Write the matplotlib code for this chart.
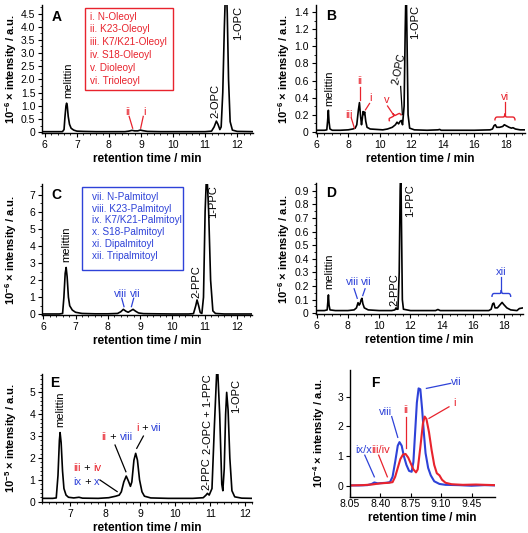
import numpy as np
import matplotlib
matplotlib.use("Agg")
import matplotlib.pyplot as plt
from matplotlib.ticker import AutoMinorLocator, FuncFormatter, MultipleLocator
from matplotlib.path import Path
from matplotlib.patches import PathPatch, Rectangle

plt.rcParams['font.family'] = ['Liberation Sans', 'DejaVu Sans']
plt.rcParams['mathtext.fontset'] = 'custom'
plt.rcParams['mathtext.rm'] = 'Liberation Sans'
plt.rcParams['mathtext.bf'] = 'Liberation Sans:bold'

RED = '#e8232d'
BLUE = '#2e42d8'

# --- chromatogram traces (retention time / min, intensity) ---
a_time = [5.95, 6.3, 6.55, 6.6, 6.63, 6.66, 6.68, 6.7, 6.73, 6.77, 6.82, 6.9, 7.0, 7.2, 7.6, 8.0,
          8.5, 8.62, 8.72, 8.8, 8.9, 8.98, 9.05, 9.2, 9.6, 10.0, 10.6, 11.0, 11.2, 11.28, 11.35,
          11.4, 11.46, 11.5, 11.55, 11.6, 11.65, 11.69, 11.73, 11.78, 11.85, 12.0, 12.5]
a_signal = [0.02, 0.02, 0.02, 0.1, 0.6, 1.0, 1.1, 1.0, 0.6, 0.3, 0.15, 0.08, 0.04, 0.03, 0.02, 0.02,
            0.02, 0.04, 0.07, 0.05, 0.05, 0.08, 0.06, 0.03, 0.02, 0.02, 0.02, 0.02, 0.04, 0.2, 0.42,
            0.3, 0.1, 0.2, 1.5, 4.0, 6.0, 4.5, 2.0, 0.4, 0.08, 0.03, 0.02]

b_time = [5.95, 6.5, 6.65, 6.7, 6.75, 6.79, 6.85, 7.0, 7.5, 8.0, 8.3, 8.45, 8.55, 8.65, 8.72, 8.78,
          8.85, 8.9, 8.95, 9.0, 9.05, 9.12, 9.2, 9.4, 9.8, 10.2, 10.5, 10.8, 11.0, 11.1, 11.2, 11.3,
          11.38, 11.45, 11.55, 11.62, 11.68, 11.74, 11.8, 11.9, 12.2, 13.0, 13.7, 13.8, 13.9, 15.0,
          16.0, 17.0, 17.15, 17.25, 17.33, 17.42, 17.6, 17.8, 17.9, 18.0, 18.2, 18.35, 18.45, 18.6,
          18.9, 19.2]
b_signal = [0.015, 0.015, 0.02, 0.12, 0.25, 0.12, 0.03, 0.015, 0.015, 0.02, 0.03, 0.04, 0.08, 0.25,
            0.34, 0.2, 0.08, 0.15, 0.235, 0.2, 0.23, 0.12, 0.05, 0.03, 0.025, 0.02, 0.03, 0.05, 0.08,
            0.11, 0.09, 0.12, 0.13, 0.08, 0.3, 1.2, 1.8, 1.0, 0.2, 0.04, 0.02, 0.015, 0.02, 0.025,
            0.015, 0.015, 0.015, 0.02, 0.03, 0.07, 0.08, 0.05, 0.05, 0.06, 0.08, 0.07, 0.05, 0.04,
            0.045, 0.03, 0.02, 0.02]

c_time = [5.95, 6.5, 6.6, 6.64, 6.68, 6.71, 6.74, 6.78, 6.82, 6.9, 7.0, 7.2, 7.6, 8.0, 8.3, 8.4,
          8.48, 8.56, 8.63, 8.7, 8.78, 8.86, 8.95, 9.1, 9.5, 10.0, 10.5, 10.65, 10.72, 10.76, 10.81,
          10.86, 10.91, 10.96, 11.01, 11.06, 11.12, 11.18, 11.25, 11.33, 11.6, 12.8]
c_signal = [0.02, 0.02, 0.05, 1.0, 2.4, 2.74, 2.2, 1.0, 0.5, 0.25, 0.12, 0.05, 0.03, 0.03, 0.05, 0.15,
            0.29, 0.18, 0.12, 0.2, 0.29, 0.18, 0.08, 0.04, 0.03, 0.02, 0.02, 0.04, 0.5, 0.84, 0.5,
            0.1, 0.05, 1.0, 6.0, 8.5, 6.0, 2.0, 0.2, 0.05, 0.02, 0.02]

d_time = [5.95, 6.5, 6.68, 6.72, 6.76, 6.8, 6.86, 7.2, 8.0, 8.4, 8.55, 8.65, 8.72, 8.78, 8.85, 8.9,
          8.96, 9.05, 9.3, 10.0, 10.8, 11.0, 11.08, 11.13, 11.2, 11.28, 11.34, 11.38, 11.43, 11.48,
          11.55, 12.0, 13.6, 13.75, 13.9, 17.0, 17.15, 17.25, 17.32, 17.4, 17.55, 17.7, 17.85,
          17.95, 18.15, 18.4, 18.8, 18.95, 19.2]
d_signal = [0.02, 0.02, 0.025, 0.08, 0.135, 0.06, 0.025, 0.02, 0.02, 0.025, 0.04, 0.078, 0.06, 0.07,
            0.1, 0.11, 0.07, 0.04, 0.025, 0.02, 0.02, 0.025, 0.04, 0.03, 0.03, 0.3, 0.9, 1.1, 0.6,
            0.1, 0.03, 0.02, 0.02, 0.028, 0.02, 0.02, 0.03, 0.07, 0.075, 0.04, 0.04, 0.06, 0.08,
            0.065, 0.04, 0.025, 0.02, 0.035, 0.04]

e_time = [6.2, 6.5, 6.6, 6.65, 6.69, 6.71, 6.74, 6.78, 6.82, 6.88, 6.95, 7.1, 7.25, 7.35, 7.8, 8.1,
          8.3, 8.4, 8.46, 8.53, 8.6, 8.66, 8.72, 8.76, 8.82, 8.87, 8.92, 8.98, 9.05, 9.12, 9.3, 9.8,
          10.5, 10.8, 10.88, 10.92, 10.97, 11.05, 11.12, 11.2, 11.27, 11.33, 11.36, 11.4, 11.44,
          11.47, 11.51, 11.56, 11.62, 11.7, 11.9, 12.2]
e_signal = [0.15, 0.15, 0.17, 1.2, 2.8, 3.16, 2.7, 1.4, 0.6, 0.3, 0.2, 0.17, 0.2, 0.16, 0.15, 0.18,
            0.25, 0.3, 0.45, 0.9, 1.17, 0.95, 0.7, 0.9, 1.9, 2.21, 1.9, 1.0, 0.45, 0.25, 0.17, 0.15,
            0.15, 0.18, 0.3, 0.38, 0.3, 0.6, 3.5, 6.5, 4.0, 0.8, 0.5, 1.5, 4.0, 5.0, 4.2, 2.0, 0.5,
            0.22, 0.16, 0.15]

f_blue_time = [8.05, 8.15, 8.25, 8.3, 8.33, 8.37, 8.42, 8.47, 8.51, 8.54, 8.57, 8.6, 8.62, 8.645,
               8.67, 8.7, 8.73, 8.76, 8.78, 8.8, 8.82, 8.84, 8.86, 8.88, 8.9, 8.92, 8.95, 8.98, 9.02,
               9.08, 9.15, 9.3, 9.45, 9.6, 9.72]
f_blue_signal = [0.01, 0.01, 0.02, 0.06, 0.11, 0.08, 0.09, 0.1, 0.12, 0.3, 0.8, 1.35, 1.47, 1.35,
                 1.0, 0.7, 0.5, 0.47, 0.8, 1.8, 2.8, 3.28, 3.25, 2.6, 1.8, 1.1, 0.6, 0.35, 0.15,
                 0.06, 0.03, 0.02, 0.0, 0.02, 0.01]
f_red_time = [8.05, 8.2, 8.3, 8.4, 8.5, 8.54, 8.57, 8.6, 8.63, 8.66, 8.69, 8.72, 8.75, 8.78, 8.81,
              8.83, 8.86, 8.89, 8.91, 8.93, 8.96, 8.99, 9.02, 9.05, 9.08, 9.11, 9.15, 9.22, 9.35,
              9.5, 9.6, 9.72]
f_red_signal = [0.01, 0.02, 0.04, 0.08, 0.1, 0.12, 0.3, 0.6, 0.9, 1.05, 1.07, 0.95, 0.75, 0.55,
                0.45, 0.55, 1.3, 2.1, 2.33, 2.25, 1.8, 1.2, 0.7, 0.42, 0.35, 0.2, 0.1, 0.05, 0.03,
                0.04, 0.03, 0.02]

oleoyl_names = ['i. N-Oleoyl', 'ii. K23-Oleoyl', 'iii. K7/K21-Oleoyl', 'iv. S18-Oleoyl',
                'v. Dioleoyl', 'vi. Trioleoyl']
palmitoyl_names = ['vii. N-Palmitoyl', 'viii. K23-Palmitoyl', 'ix. K7/K21-Palmitoyl',
                   'x. S18-Palmitoyl', 'xi. Dipalmitoyl', 'xii. Tripalmitoyl']

FIG_W = 528
fig = plt.figure(figsize=(5.28, 5.33), dpi=100)


def setup(ax, xlim, ylim, xmaj, ymaj, xmin_n, ymin_n, yint, exp):
    ax.set_xlim(*xlim)
    ax.set_ylim(*ylim)
    for s in ('top', 'right'):
        ax.spines[s].set_visible(False)
    for s in ('left', 'bottom'):
        ax.spines[s].set_linewidth(1.0)
    ax.xaxis.set_major_locator(MultipleLocator(xmaj))
    ax.yaxis.set_major_locator(MultipleLocator(ymaj))
    ax.xaxis.set_minor_locator(AutoMinorLocator(xmin_n))
    ax.yaxis.set_minor_locator(AutoMinorLocator(ymin_n))
    if yint:
        ax.yaxis.set_major_formatter(FuncFormatter(lambda v, _: '%d' % round(v)))
    else:
        ax.yaxis.set_major_formatter(FuncFormatter(lambda v, _: '0' if abs(v) < 1e-9 else '%.1f' % v))
    ax.tick_params(which='major', direction='out', length=3, width=0.8, labelsize=7.5, pad=2)
    ax.tick_params(which='minor', direction='out', length=1.6, width=0.6)
    ax.set_xlabel('retention time / min', fontsize=8.5, fontweight='bold', labelpad=2)
    ax.set_ylabel('10$^{\\mathbf{%d}}$ × intensity / a.u.' % exp, fontsize=8.0,
                  fontweight='bold')
    # label sits in the same place left of the spine in every panel
    w_px = ax.get_position().width * FIG_W
    ax.yaxis.set_label_coords(-23.5 / w_px, 0.5)


def brace(ax, p0, p1, height, color):
    # curly bracket between two data points, tip pointing to the left-hand normal side
    a = np.array(ax.transData.transform(p0))
    b = np.array(ax.transData.transform(p1))
    d = b - a
    n = np.array([-d[1], d[0]]) / np.hypot(*d)
    h = height * fig.dpi / 72.0
    ctrl = [(0, 0), (0, 0.5), (0.12, 0.5), (0.42, 0.5), (0.5, 0.5), (0.5, 1.0),
            (0.5, 0.5), (0.58, 0.5), (0.88, 0.5), (1.0, 0.5), (1.0, 0)]
    codes = [Path.MOVETO, Path.CURVE3, Path.CURVE3, Path.LINETO, Path.CURVE3, Path.CURVE3,
             Path.CURVE3, Path.CURVE3, Path.LINETO, Path.CURVE3, Path.CURVE3]
    pts = [a + s * d + o * h * n for s, o in ctrl]
    pts = ax.transAxes.inverted().transform(pts)
    ax.add_patch(PathPatch(Path(pts, codes), fill=False, edgecolor=color, lw=1.0,
                           transform=ax.transAxes, clip_on=False))


def label_line(ax, text, txy, lxy0, lxy1, color, size=8, rot=0):
    ax.text(*txy, text, color=color, fontsize=size, ha='center', va='center', rotation=rot)
    ax.plot([lxy0[0], lxy1[0]], [lxy0[1], lxy1[1]], color=color, lw=0.9)


def vlabel(ax, x, y, text, va='bottom', size=8):
    ax.text(x, y, text, rotation=90, ha='center', va=va, fontsize=size)


def multicolor(ax, x, y, pieces, size=8):
    t = ax.text(x, y, pieces[0][0], color=pieces[0][1], fontsize=size, ha='left', va='center')
    for s, c in pieces[1:]:
        t = ax.annotate(s, xy=(1, 0.5), xycoords=t, color=c, fontsize=size, ha='left', va='center')


def panel_letter(ax, x, y, letter):
    ax.text(x, y, letter, transform=ax.transAxes, fontsize=10, fontweight='bold',
            ha='center', va='center')


# ---------------- A ----------------
axA = fig.add_axes([0.080, 0.7505, 0.3996, 0.240])
axA.plot(a_time, a_signal, color='black', lw=1.2)
setup(axA, (5.92, 12.5), (-0.03, 4.82), 1, 0.5, 5, 2, False, -6)
panel_letter(axA, 0.068, 0.909, 'A')
vlabel(axA, 6.72, 1.3, 'melittin')
vlabel(axA, 11.33, 0.53, '2-OPC')
vlabel(axA, 12.03, 4.8, '1-OPC', va='top')
label_line(axA, 'ii', (8.6, 0.76), (8.63, 0.6), (8.74, 0.15), RED)
label_line(axA, 'i', (9.1, 0.76), (9.07, 0.6), (8.99, 0.15), RED)
axA.add_patch(Rectangle((0.202, 0.336), 0.418, 0.641, transform=axA.transAxes, fill=False,
                        edgecolor=RED, lw=1.0))
for k, name in enumerate(oleoyl_names):
    axA.text(0.226, 0.91 - k * 0.1, name, transform=axA.transAxes, color=RED, fontsize=7.2,
             ha='left', va='center')

# ---------------- B ----------------
axB = fig.add_axes([0.598, 0.750, 0.396, 0.241])
axB.plot(b_time, b_signal, color='black', lw=1.2)
setup(axB, (5.95, 19.2), (-0.02, 1.49), 2, 0.2, 4, 2, False, -6)
panel_letter(axB, 0.072, 0.909, 'B')
vlabel(axB, 6.8, 0.3, 'melittin')
label_line(axB, 'iii', (8.04, 0.2), (8.2, 0.16), (8.4, 0.04), RED)
label_line(axB, 'ii', (8.76, 0.59), (8.76, 0.52), (8.76, 0.37), RED)
label_line(axB, 'i', (9.42, 0.40), (9.36, 0.33), (9.1, 0.255), RED)
label_line(axB, 'v', (10.46, 0.37), (10.5, 0.3), (10.9, 0.19), RED)
brace(axB, (10.63, 0.12), (11.38, 0.19), 4, RED)
axB.text(11.24, 0.74, '2-OPC', rotation=78, ha='center', va='center', fontsize=7.5)
axB.plot([11.33, 11.44], [0.53, 0.2], color='black', lw=0.9)
vlabel(axB, 12.22, 1.49, '1-OPC', va='top')
label_line(axB, 'vi', (17.96, 0.41), (17.96, 0.35), (17.96, 0.2), RED)
brace(axB, (17.3, 0.13), (18.58, 0.13), 5, RED)

# ---------------- C ----------------
axC = fig.add_axes([0.080, 0.409, 0.3966, 0.245])
axC.plot(c_time, c_signal, color='black', lw=1.2)
setup(axC, (5.97, 12.45), (-0.04, 7.6), 1, 1, 5, 2, True, -6)
panel_letter(axC, 0.069, 0.918, 'C')
vlabel(axC, 6.72, 3.05, 'melittin')
label_line(axC, 'viii', (8.4, 1.17), (8.43, 0.94), (8.5, 0.45), BLUE)
label_line(axC, 'vii', (8.84, 1.17), (8.8, 0.94), (8.73, 0.45), BLUE)
vlabel(axC, 10.75, 0.97, '2-PPC')
vlabel(axC, 11.26, 7.55, '1-PPC', va='top')
axC.add_patch(Rectangle((0.188, 0.344), 0.484, 0.638, transform=axC.transAxes, fill=False,
                        edgecolor=BLUE, lw=1.0))
for k, name in enumerate(palmitoyl_names):
    axC.text(0.236, 0.905 - k * 0.0905, name, transform=axC.transAxes, color=BLUE, fontsize=7.2,
             ha='left', va='center')

# ---------------- D ----------------
axD = fig.add_axes([0.598, 0.4109, 0.393, 0.245])
axD.plot(d_time, d_signal, color='black', lw=1.2)
setup(axD, (5.95, 19.2), (-0.005, 0.953), 2, 0.1, 4, 2, False, -6)
panel_letter(axD, 0.072, 0.926, 'D')
vlabel(axD, 6.8, 0.18, 'melittin')
label_line(axD, 'viii', (8.3, 0.23), (8.4, 0.18), (8.6, 0.11), BLUE)
label_line(axD, 'vii', (9.2, 0.23), (9.1, 0.18), (8.95, 0.13), BLUE)
vlabel(axD, 10.95, 0.05, '2-PPC')
vlabel(axD, 12.0, 0.95, '1-PPC', va='top')
label_line(axD, 'xii', (17.8, 0.3), (17.8, 0.27), (17.8, 0.16), BLUE)
brace(axD, (17.2, 0.12), (18.4, 0.12), 5, BLUE)

# ---------------- E ----------------
axE = fig.add_axes([0.080, 0.0576, 0.3977, 0.2407])
axE.plot(e_time, e_signal, color='black', lw=1.2)
setup(axE, (6.2, 12.2), (-0.03, 5.84), 1, 1, 5, 5, True, -5)
panel_letter(axE, 0.06, 0.927, 'E')
vlabel(axE, 6.71, 3.43, 'melittin')
multicolor(axE, 8.88, 3.35, [('i', RED), (' + ', 'black'), ('vii', BLUE)])
axE.plot([9.09, 8.9], [3.0, 2.44], color='black', lw=0.9)
multicolor(axE, 7.9, 2.94, [('ii', RED), (' + ', 'black'), ('viii', BLUE)])
axE.plot([8.28, 8.59], [2.59, 1.37], color='black', lw=0.9)
multicolor(axE, 7.09, 1.53, [('iii', RED), (' + ', 'black'), ('iv', RED)])
multicolor(axE, 7.09, 0.91, [('ix', BLUE), (' + ', 'black'), ('x', BLUE)])
axE.plot([7.85, 8.34], [0.99, 0.46], color='black', lw=0.9)
vlabel(axE, 10.9, 0.53, '2-PPC')
vlabel(axE, 10.94, 5.84, '2-OPC + 1-PPC', va='top')
vlabel(axE, 11.75, 4.04, '1-OPC')

# ---------------- F ----------------
axF = fig.add_axes([0.6629, 0.0681, 0.2746, 0.2377])
axF.plot(f_blue_time, f_blue_signal, color=BLUE, lw=1.5)
axF.plot(f_red_time, f_red_signal, color=RED, lw=1.5)
setup(axF, (8.05, 9.72), (-0.37, 3.9), 0.35, 1, 1, 1, True, -4)
axF.xaxis.set_major_formatter(FuncFormatter(lambda v, _: '%.2f' % v))
axF.tick_params(axis='x', which='major', direction='in')
panel_letter(axF, 0.172, 0.895, 'F')
label_line(axF, 'vii', (9.27, 3.5), (9.21, 3.45), (8.93, 3.28), BLUE)
label_line(axF, 'i', (9.25, 2.79), (9.19, 2.66), (8.96, 2.27), RED)
label_line(axF, 'viii', (8.46, 2.49), (8.53, 2.33), (8.6, 1.63), BLUE)
label_line(axF, 'ii', (8.69, 2.55), (8.69, 2.33), (8.69, 1.26), RED)
label_line(axF, 'ix/x', (8.21, 1.2), (8.22, 1.03), (8.33, 0.3), BLUE)
label_line(axF, 'iii/iv', (8.40, 1.2), (8.38, 1.03), (8.48, 0.3), RED)

fig.savefig('out.png', dpi=100)
